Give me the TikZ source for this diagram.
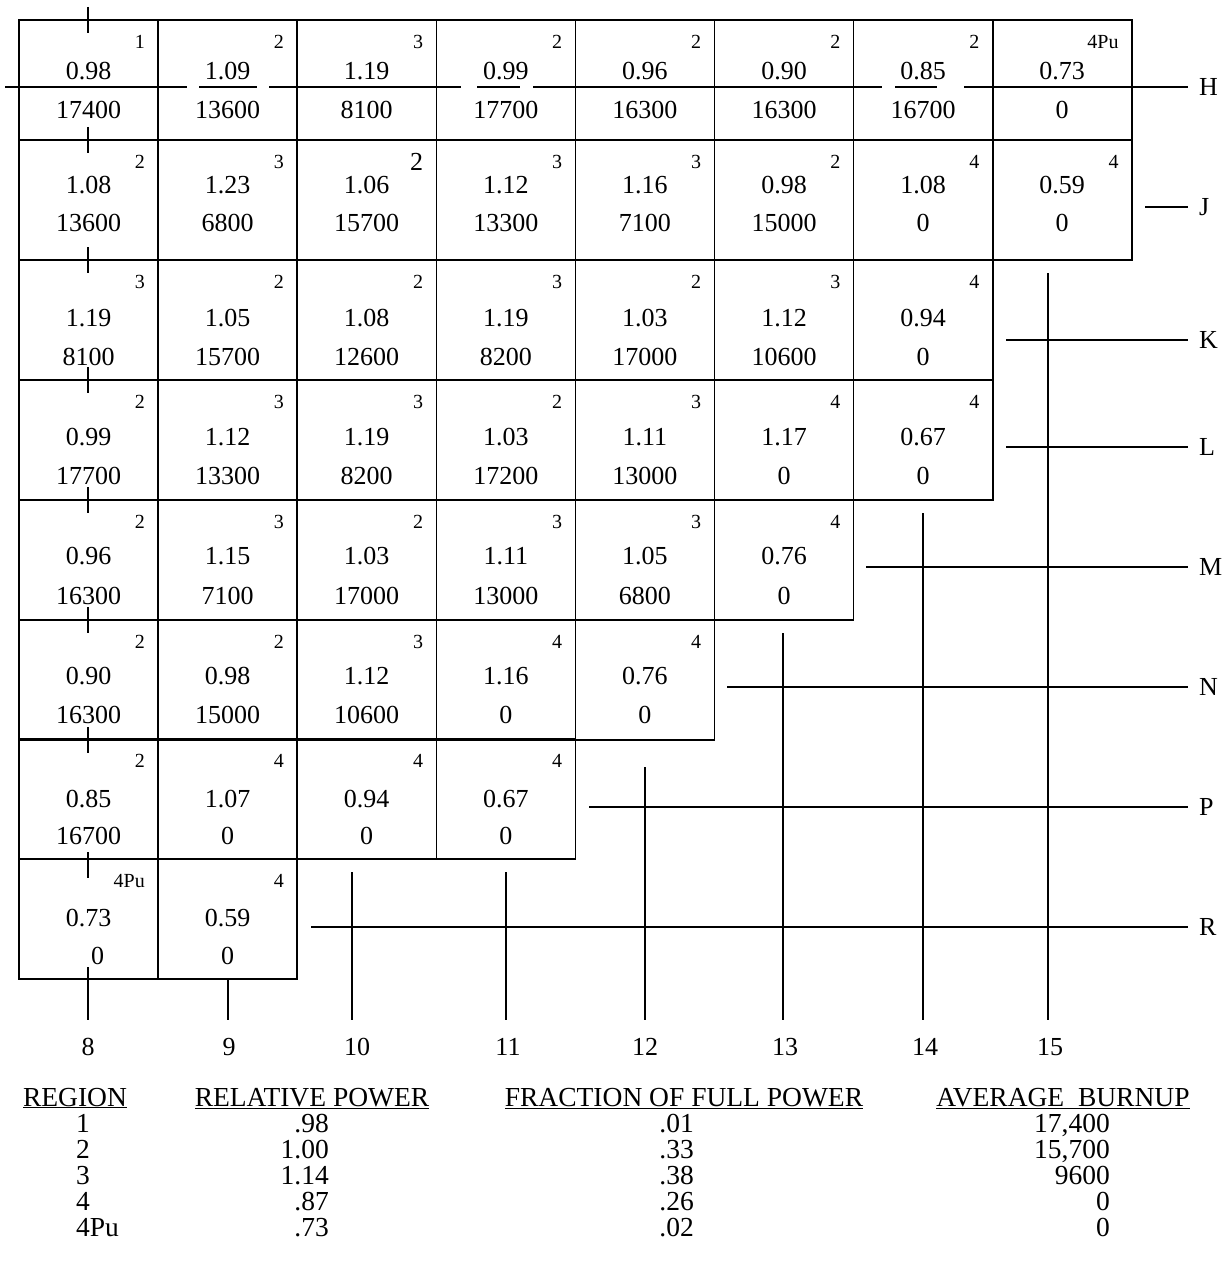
\documentclass[tikz,border=0pt]{standalone}
\usepackage{fontspec}
\setmainfont{Liberation Serif}
\begin{document}
\begin{tikzpicture}[x=1pt,y=-1pt,
    box/.style={line width=1.6pt},
    trav/.style={line width=1.4pt},
    val/.style={inner sep=0pt,font=\fontsize{26}{28}\selectfont},
    reg/.style={inner sep=0pt,anchor=east,font=\fontsize{20}{22}\selectfont},
    lbl/.style={inner sep=0pt,font=\fontsize{26}{28}\selectfont},
    tab/.style={inner sep=0pt,font=\fontsize{27.5}{29}\selectfont}]
  \useasboundingbox (0,0) rectangle (1231,1268);
  \foreach \row/\top/\pw/\bu/\cells in {
      h/20/51/90/{1/0.98/17400,2/1.09/13600,3/1.19/8100,2/0.99/17700,2/0.96/16300,2/0.90/16300,2/0.85/16700,4Pu/0.73/0},
      j/140/45/83/{2/1.08/13600,3/1.23/6800,{\fontsize{26}{28}\selectfont 2}/1.06/15700,3/1.12/13300,3/1.16/7100,2/0.98/15000,4/1.08/0,4/0.59/0},
      k/260/58/97/{3/1.19/8100,2/1.05/15700,2/1.08/12600,3/1.19/8200,2/1.03/17000,3/1.12/10600,4/0.94/0},
      l/380/57/96/{2/0.99/17700,3/1.12/13300,3/1.19/8200,2/1.03/17200,3/1.11/13000,4/1.17/0,4/0.67/0},
      m/500/56/96/{2/0.96/16300,3/1.15/7100,2/1.03/17000,3/1.11/13000,3/1.05/6800,4/0.76/0},
      n/620/56/95/{2/0.90/16300,2/0.98/15000,3/1.12/10600,4/1.16/0,4/0.76/0},
      p/739/60/97/{2/0.85/16700,4/1.07/0,4/0.94/0,4/0.67/0},
      r/859/59/97/{4Pu/0.73/\kern18pt 0,4/0.59/0}}{
    \foreach \reg/\p/\b [count=\c] in \cells {
      \pgfmathsetmacro\xl{19+139.1*(\c-1)}
      \draw[box] (\xl,\top) rectangle ++(139.1,120);
      \node[reg] (\row\c reg) at (\xl+126,\top+22) {\reg};
      \node[val] (\row\c pow) at (\xl+69.5,\top+\pw) {\p};
      \node[val] (\row\c bu) at (\xl+69.5,\top+\bu) {\b};
    }
  }
  \draw[trav] (5,87) -- (187,87) (199,87) -- (257,87) (269,87) -- (461,87)
    (477,87) -- (520,87) (533,87) -- (882,87) (895,87) -- (937,87) (964,87) -- (1188,87);
  \foreach \y in {20,140,260,380,500,620,740}
    \draw[trav] (88,\y-13) -- (88,\y+13);
  \draw[trav] (88,852) -- (88,878) (88,967) -- (88,1020);
  \draw[trav] (1145,207) -- (1188,207);
  \draw[trav] (1006,340) -- (1188,340);
  \draw[trav] (1006,447) -- (1188,447);
  \draw[trav] (866,567) -- (1188,567);
  \draw[trav] (727,687) -- (1188,687);
  \draw[trav] (589,807) -- (1188,807);
  \draw[trav] (311,927) -- (1188,927);
  \draw[trav] (228,980) -- (228,1020);
  \draw[trav] (352,872) -- (352,1020);
  \draw[trav] (506,872) -- (506,1020);
  \draw[trav] (645,767) -- (645,1020);
  \draw[trav] (783,633) -- (783,1020);
  \draw[trav] (923,513) -- (923,1020);
  \draw[trav] (1048,273) -- (1048,1020);
  \foreach \n/\y in {H/87,J/207,K/340,L/447,M/567,N/687,P/807,R/927}
    \node[lbl,anchor=west] (row\n) at (1199,\y) {\n};
  \foreach \n/\x in {8/88,9/229,10/357,11/508,12/645,13/785,14/925,15/1050}
    \node[lbl] (col\n) at (\x,1047) {\n};
  \node[tab,anchor=base] (hreg) at (75,1106) {\underline{REGION}};
  \node[tab,anchor=base] (hpow) at (312,1106) {\underline{RELATIVE POWER}};
  \node[tab,anchor=base] (hfrac) at (684,1106) {\underline{FRACTION OF FULL POWER}};
  \node[tab,anchor=base] (hbu) at (1063,1106) {\underline{AVERAGE\ \ BURNUP}};
  \foreach \reg/\p/\f/\b [count=\i] in {1/.98/.01/{17,400},2/1.00/.33/{15,700},3/1.14/.38/9600,4/.87/.26/0,4Pu/.73/.02/0}{
    \node[tab,anchor=base west] (treg\i) at (76,1106+26*\i) {\reg};
    \node[tab,anchor=base east] (tpow\i) at (329,1106+26*\i) {\p};
    \node[tab,anchor=base east] (tfrac\i) at (694,1106+26*\i) {\f};
    \node[tab,anchor=base east] (tbu\i) at (1110,1106+26*\i) {\b};
  }
\end{tikzpicture}
\end{document}
